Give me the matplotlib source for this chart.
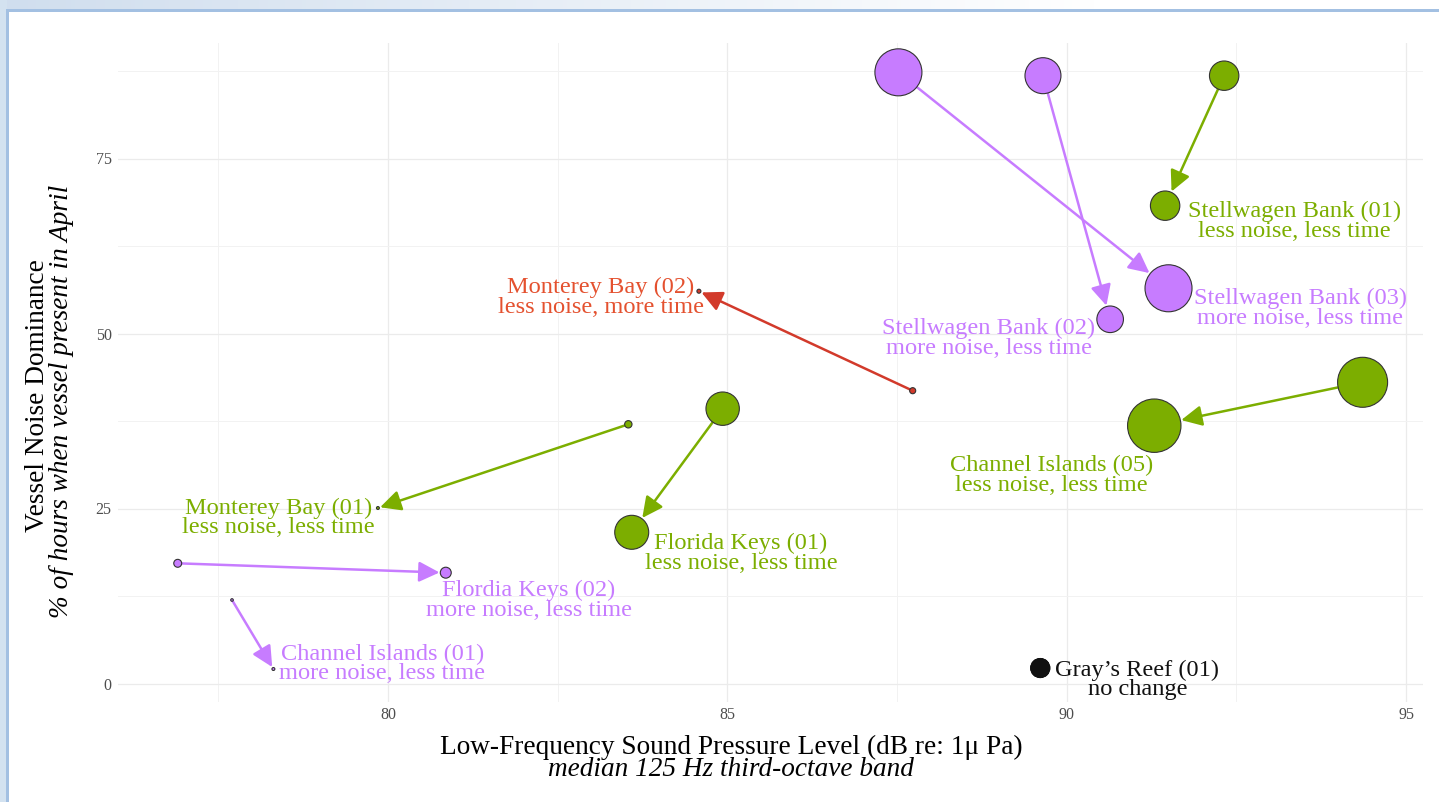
import numpy as np
import matplotlib
matplotlib.use("Agg")
import matplotlib.pyplot as plt
from matplotlib.patches import FancyArrowPatch, Rectangle
from matplotlib.colors import LinearSegmentedColormap
from matplotlib.ticker import MultipleLocator, FixedLocator

plt.rcParams['font.family'] = ['Liberation Serif', 'DejaVu Serif']

# ---------------- data ----------------
sites = ["Stellwagen Bank (01)", "Stellwagen Bank (02)", "Stellwagen Bank (03)",
         "Channel Islands (05)", "Florida Keys (01)", "Monterey Bay (01)",
         "Monterey Bay (02)", "Flordia Keys (02)", "Channel Islands (01)",
         "Gray\u2019s Reef (01)"]
change = ["less noise, less time", "more noise, less time", "more noise, less time",
          "less noise, less time", "less noise, less time", "less noise, less time",
          "less noise, more time", "more noise, less time", "more noise, less time",
          "no change"]
spl_start = [92.32, 89.65, 87.52, 94.36, 84.93, 83.54, 87.73, 76.90, 77.70, 89.61]
spl_end   = [91.45, 90.64, 91.50, 91.29, 83.59, 79.85, 84.58, 80.85, 78.31, 89.61]
vnd_start = [86.83, 86.83, 87.31, 43.03, 39.26, 37.03, 41.83, 17.17, 11.93, 2.21]
vnd_end   = [68.26, 52.03, 56.46, 36.83, 21.60, 25.07, 56.04, 15.83, 2.07, 2.21]
size_start = [30.3, 45.4, 77.5, 87.7, 39.1, 1.9, 1.3, 2.2, 0.14, 12.7]
size_end   = [30.3, 24.8, 77.5, 100.0, 40.5, 0.3, 0.56, 4.2, 0.3, 12.7]
x_ticks = [80, 85, 90, 95]
y_ticks = [0, 25, 50, 75]

# ---------------- styles ----------------
fill_col = {"less noise, less time": "#7CAE00",
            "more noise, less time": "#C77CFF",
            "less noise, more time": "#D23A2B",
            "no change": "#111111"}
text_col = {"less noise, less time": "#7CAE00",
            "more noise, less time": "#C77CFF",
            "less noise, more time": "#E4512F",
            "no change": "#111111"}
# label placement relative to end point: (ha, dx px, dy px down)
label_place = [("left", 23, 16), ("right", -15, 19), ("left", 25, 20),
               ("right", -1, 50), ("left", 13, 21), ("right", -3, 10),
               ("right", 5, 6), ("left", -20, 28), ("left", 6, -5),
               ("left", 15, 12)]

W, H, DPI = 1439, 802, 100
PX2PT = 72.0 / DPI


def radius_px(v):
    return 2.67 * np.sqrt(v)


def area(v):
    r_pt = max(radius_px(v), 1.3) * PX2PT
    return (2 * r_pt) ** 2


fig = plt.figure(figsize=(W / DPI, H / DPI), dpi=DPI, facecolor="white")

# window-like frame decoration
deco = fig.add_axes([0, 0, 1, 1], zorder=-5)
deco.set_xlim(0, W)
deco.set_ylim(H, 0)
deco.axis("off")
cmap = LinearSegmentedColormap.from_list("g", ["#D0DEEE", "#FFFFFF"])
deco.imshow(np.linspace(0, 1, 256)[None, :], cmap=cmap, aspect="auto",
            extent=(0, 1100, 9.5, 0), interpolation="bilinear")
deco.add_patch(Rectangle((0, 0), 6.5, H, color="#D3E2F0", lw=0))
deco.add_patch(Rectangle((6, 9), 2.5, H, color="#A3C0E2", lw=0))
deco.add_patch(Rectangle((6, 9), W, 2.5, color="#A3C0E2", lw=0))

ax = fig.add_axes([118 / W, 1 - 702.4 / H, (1423 - 118) / W, (702.4 - 43) / H])
ax.set_xlim(76.02, 95.25)
ax.set_ylim(-2.7, 91.5)
for s in ax.spines.values():
    s.set_visible(False)
ax.xaxis.set_major_locator(FixedLocator(x_ticks))
ax.yaxis.set_major_locator(FixedLocator(y_ticks))
ax.xaxis.set_minor_locator(MultipleLocator(2.5))
ax.yaxis.set_minor_locator(MultipleLocator(12.5))
ax.grid(which="major", color="#EBEBEB", lw=0.9)
ax.grid(which="minor", color="#F2F2F2", lw=0.7)
ax.set_axisbelow(True)
ax.tick_params(which="both", length=0, labelsize=11.5, labelcolor="#4D4D4D")
ax.tick_params(axis="y", pad=4.5)
ax.tick_params(axis="x", pad=3)

# arrows
for i in range(len(sites)):
    c = fill_col[change[i]]
    if spl_start[i] == spl_end[i] and vnd_start[i] == vnd_end[i]:
        continue
    rB = max(radius_px(size_end[i]), 1.3) * PX2PT + 0.6
    arr = FancyArrowPatch((spl_start[i], vnd_start[i]), (spl_end[i], vnd_end[i]),
                          arrowstyle="-|>,head_length=12.5,head_width=6.2",
                          mutation_scale=1, shrinkA=0, shrinkB=rB,
                          lw=1.8, color=c, zorder=2)
    ax.add_patch(arr)

# points
for i in range(len(sites)):
    c = fill_col[change[i]]
    ec = "#111111" if change[i] == "no change" else "#333333"
    ax.scatter([spl_start[i], spl_end[i]], [vnd_start[i], vnd_end[i]],
               s=[area(size_start[i]), area(size_end[i])],
               c=c, edgecolors=ec, linewidths=0.8, zorder=3)

# labels
for i in range(len(sites)):
    ha, dx, dy = label_place[i]
    ax.annotate(f"{sites[i]}\n{change[i]}", xy=(spl_end[i], vnd_end[i]),
                xytext=(dx * PX2PT, -dy * PX2PT), textcoords="offset points",
                ha=ha, va="center", multialignment="center",
                color=text_col[change[i]], fontsize=17.6, linespacing=0.92,
                zorder=4)

# axis titles
fig.text(731 / W, 1 - 747 / H, "Low-Frequency Sound Pressure Level (dB re: 1\u03bc Pa)",
         ha="center", va="center", fontsize=19.6, color="black")
fig.text(731 / W, 1 - 770 / H, "median 125 Hz third-octave band",
         ha="center", va="center", fontsize=19.6, style="italic", color="black")
fig.text(38 / W, 1 - 396 / H, "Vessel Noise Dominance", rotation=90,
         ha="center", va="center", fontsize=19.6, color="black")
fig.text(62 / W, 1 - 401 / H, "% of hours when vessel present in April", rotation=90,
         ha="center", va="center", fontsize=19.6, style="italic", color="black")

fig.savefig("out.png", dpi=DPI, facecolor="white")
